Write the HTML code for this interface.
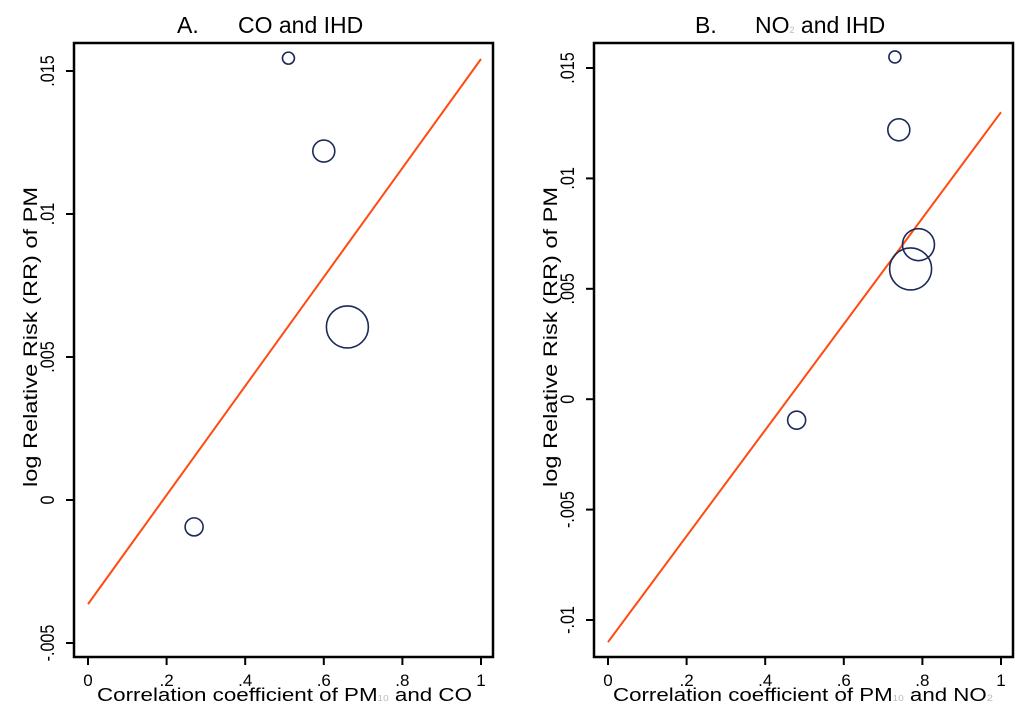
<!DOCTYPE html>
<html><head><meta charset="utf-8"><style>
html,body{margin:0;padding:0;background:#fff;}
svg{display:block;font-family:"Liberation Sans",Arial,sans-serif;}
</style></head><body>
<svg id="chart" width="1024" height="718" viewBox="0 0 1024 718"></svg>
<script>
// Panel A data
const aX = [0.51, 0.60, 0.66, 0.27];
const aY = [0.01545, 0.0122, 0.00605, -0.00094];
const aR = [6, 11, 21, 9];
const aFit = [-0.00364, 0.01542];
const aYTicks = [0.015, 0.01, 0.005, 0, -0.005];
const aYTickLabels = [".015", ".01", ".005", "0", "-.005"];
// Panel B data
const bX = [0.73, 0.74, 0.79, 0.77, 0.48];
const bY = [0.0155, 0.0122, 0.0070, 0.0059, -0.00095];
const bR = [6, 11, 16, 21, 9];
const bFit = [-0.011, 0.013];
const bYTicks = [0.015, 0.01, 0.005, 0, -0.005, -0.01];
const bYTickLabels = [".015", ".01", ".005", "0", "-.005", "-.01"];
const xTicks = [0, 0.2, 0.4, 0.6, 0.8, 1];
const xTickLabels = ["0", ".2", ".4", ".6", ".8", "1"];

const NS = "http://www.w3.org/2000/svg";
const svg = document.getElementById("chart");
function el(tag, attrs, parent) {
  const e = document.createElementNS(NS, tag);
  for (const k in attrs) e.setAttribute(k, attrs[k]);
  (parent || svg).appendChild(e);
  return e;
}

function panel(cfg) {
  const g = el("g", {});
  
  
  const sx = v => cfg.x0 + (cfg.x1 - cfg.x0) * v;
  const sy = v => cfg.y0px + (v - cfg.v0) / (cfg.v1 - cfg.v0) * (cfg.y1px - cfg.y0px);
  const fr = el("rect", {x: cfg.fl, y: 43, width: cfg.fr - cfg.fl, height: 614, fill: "none", stroke: "#000", "stroke-width": 2.5}, g);
  
  
  const t1 = el("text", {x: cfg.tA, y: 33, "font-size": 23}, g);
  t1.textContent = cfg.letter;
  
  
  const t2 = el("text", {x: cfg.tB, y: 33, "font-size": 23}, g);
  t2.innerHTML = cfg.title;
  
  
  cfg.yTicks.forEach((v, i) => {
    const y = sy(v);
    const tk = el("line", {x1: cfg.fl - 8, x2: cfg.fl, y1: y, y2: y, stroke: "#000", "stroke-width": 2}, g);
    
    
    const tl = el("text", {x: 0, y: 0, "font-size": 19, "text-anchor": "middle", transform: `translate(${cfg.fl - 20},${y}) rotate(-90) scale(0.85,1)`}, g);
    tl.textContent = cfg.yLabels[i];
    
    
  });
  xTicks.forEach((v, i) => {
    const x = sx(v);
    const tk = el("line", {x1: x, x2: x, y1: 657, y2: 665, stroke: "#000", "stroke-width": 2}, g);
    
    
    const tl = el("text", {x: x, y: 686, "font-size": 17, "text-anchor": "middle"}, g);
    tl.textContent = xTickLabels[i];
    
    
  });
  const xl = el("text", {x: cfg.xlX, y: 701, "font-size": 18, textLength: cfg.xlW, lengthAdjust: "spacingAndGlyphs"}, g);
  xl.innerHTML = cfg.xlabel;
  
  
  const yl = el("text", {x: 0, y: 0, "font-size": 19, "text-anchor": "middle", transform: `translate(${cfg.fl - 37},337) rotate(-90)`, textLength: 300, lengthAdjust: "spacingAndGlyphs"}, g);
  yl.textContent = "log Relative Risk (RR) of PM";
  
  
  const ln = el("line", {x1: sx(0), y1: sy(cfg.fit[0]), x2: sx(1), y2: sy(cfg.fit[1]), stroke: "#ff4a10", "stroke-width": 2}, g);
  
  
  cfg.px.forEach((v, i) => {
    const c = el("circle", {cx: sx(v), cy: sy(cfg.py[i]), r: cfg.pr[i], fill: "none", stroke: "#1c2a5a", "stroke-width": 1.6}, g);
    
    
  });
}

panel({name: "panel-a-co", letter: "A.", title: "CO and IHD", tA: 177, tB: 238,
  fl: 74, fr: 493, x0: 88, x1: 481, v0: 0.015, v1: -0.005, y0px: 71, y1px: 643,
  yTicks: aYTicks, yLabels: aYTickLabels, fit: aFit, px: aX, py: aY, pr: aR,
  xlX: 97, xlW: 375,
  xlabel: 'Correlation coefficient of PM<tspan font-size="8" fill="#bbb">10</tspan> and CO'});
panel({name: "panel-b-no2", letter: "B.", title: 'NO<tspan font-size="9" fill="#bbb">2</tspan> and IHD', tA: 695, tB: 755,
  fl: 594, fr: 1013, x0: 608, x1: 1001, v0: 0.015, v1: -0.01, y0px: 68, y1px: 620,
  yTicks: bYTicks, yLabels: bYTickLabels, fit: bFit, px: bX, py: bY, pr: bR,
  xlX: 613, xlW: 380,
  xlabel: 'Correlation coefficient of PM<tspan font-size="8" fill="#bbb">10</tspan> and NO<tspan font-size="9" fill="#bbb">2</tspan>'});
</script>
</body></html>
